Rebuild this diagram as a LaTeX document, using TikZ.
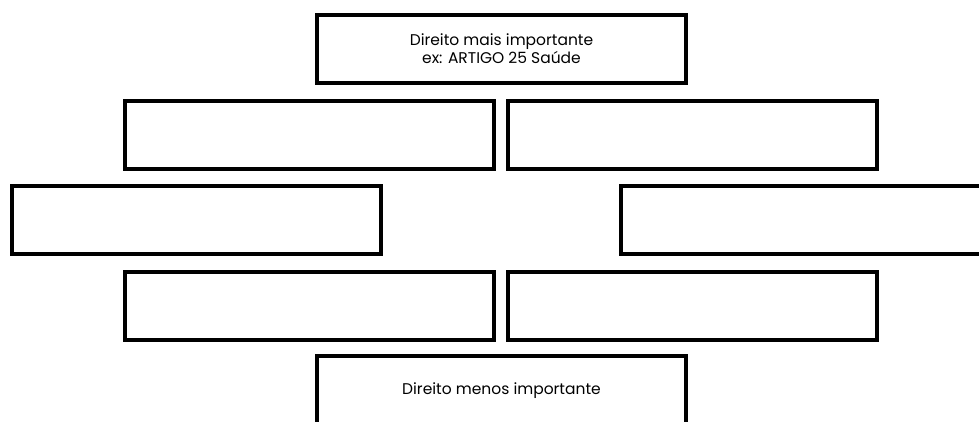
\documentclass[tikz,border=0pt]{standalone}
\usepackage{fontspec}
\setmainfont{Poppins}
\begin{document}
\begin{tikzpicture}[x=1pt,y=-1pt,
  box/.style={draw=black,line width=4pt,fill=white,inner sep=0pt,rectangle,
    minimum width=#1,minimum height=68pt,align=center,
    font=\fontsize{15.5pt}{18pt}\selectfont}]
\useasboundingbox (0,0) rectangle (979,422);
\clip (0,0) rectangle (979,422);
\node[box=369pt] (top) at (501.5,49) {Direito mais importante\\ex: ARTIGO 25 Saúde};
\node[box=369pt] (r2l) at (309.5,135) {};
\node[box=369pt] (r2r) at (692.5,135) {};
\node[box=369pt] (r3l) at (196.5,220) {};
\node[box=369pt] (r3r) at (805.5,220) {};
\node[box=369pt] (r4l) at (309.5,305.5) {};
\node[box=369pt] (r4r) at (692.5,305.5) {};
\node[box=369pt,minimum height=70pt] (bot) at (501.5,391) {Direito menos importante};
\end{tikzpicture}
\end{document}
